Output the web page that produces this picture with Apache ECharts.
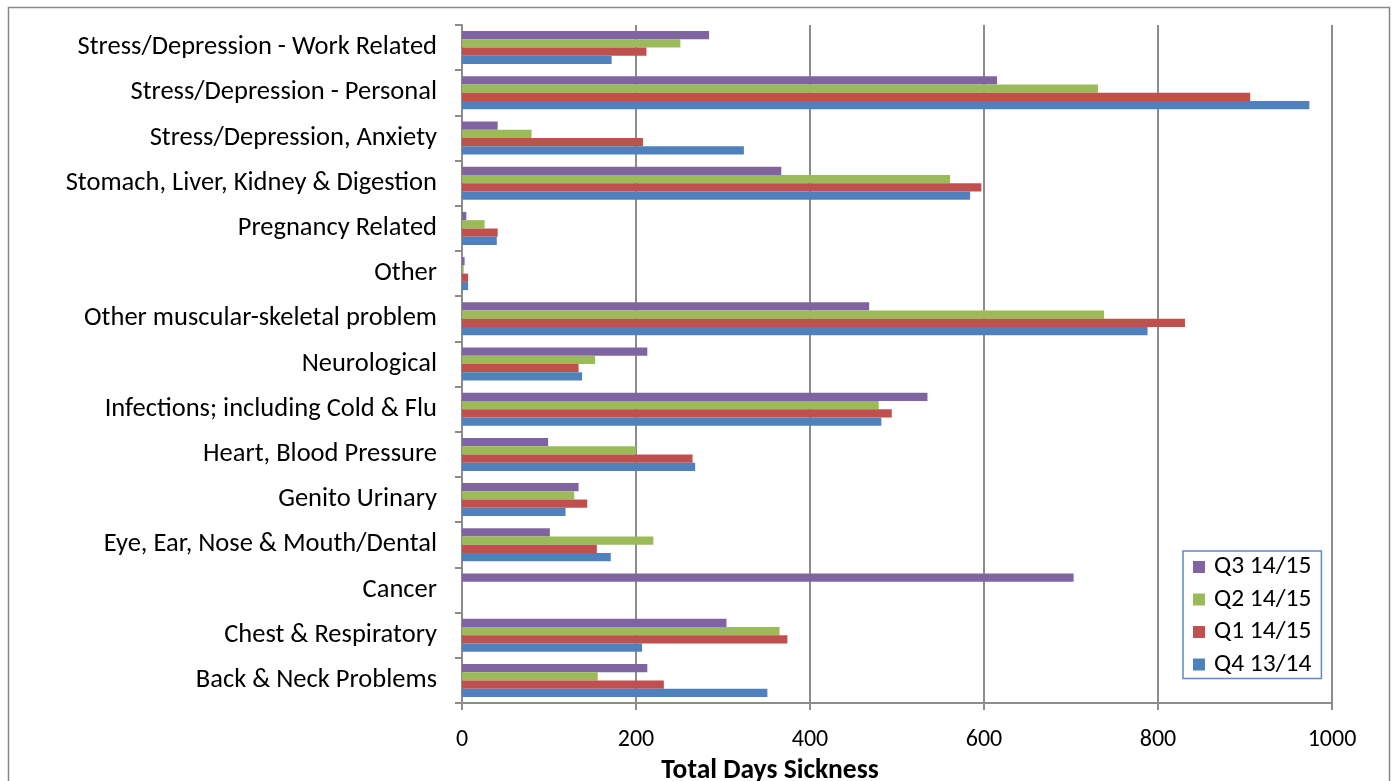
<!DOCTYPE html>
<html>
<head>
<meta charset="utf-8">
<script src="https://cdn.jsdelivr.net/npm/echarts@6/dist/echarts.min.js"></script>
<style>
  html, body { margin: 0; padding: 0; background: #fff; }
  #chart { width: 1395px; height: 781px; }
</style>
</head>
<body>
<div id="chart"></div>
<script>
// Sickness absence reasons, listed bottom to top on the category axis
const categories = [
  'Back & Neck Problems',
  'Chest & Respiratory',
  'Cancer',
  'Eye, Ear, Nose & Mouth/Dental',
  'Genito Urinary',
  'Heart, Blood Pressure',
  'Infections; including Cold & Flu',
  'Neurological',
  'Other muscular-skeletal problem',
  'Other',
  'Pregnancy Related',
  'Stomach, Liver, Kidney & Digestion',
  'Stress/Depression, Anxiety',
  'Stress/Depression - Personal',
  'Stress/Depression - Work Related'
];

const q3_1415 = [213, 304, 703, 101, 134, 99, 535, 213, 468, 3, 5, 367, 41, 615, 284];
const q2_1415 = [156, 365, 0, 220, 129, 200, 479, 153, 738, 2, 26, 561, 80, 731, 251];
const q1_1415 = [232, 374, 0, 155, 144, 265, 494, 134, 831, 7, 41, 597, 208, 906, 212];
const q4_1314 = [351, 207, 0, 171, 119, 268, 482, 138, 788, 7, 40, 584, 324, 974, 172];

const xTicks = [0, 200, 400, 600, 800, 1000];

const seriesNames = ['Q3 14/15', 'Q2 14/15', 'Q1 14/15', 'Q4 13/14'];
const seriesColors = ['#8064A2', '#9BBB59', '#C0504D', '#4F81BD'];
const seriesData = [q3_1415, q2_1415, q1_1415, q4_1314];

const font = 'Carlito, Calibri, "Liberation Sans", Arial, sans-serif';

const chart = echarts.init(document.getElementById('chart'));
chart.setOption({
  animation: false,
  backgroundColor: '#fff',
  textStyle: { fontFamily: font },
  graphic: [{
    type: 'rect',
    shape: { x: 8.5, y: 7.5, width: 1381, height: 800 },
    style: { fill: 'none', stroke: '#888', lineWidth: 1.5 },
    silent: true
  }],
  grid: { left: 462, right: 63, top: 25, bottom: 78, containLabel: false, outerBoundsMode: 'none' },
  legend: {
    orient: 'vertical',
    left: 1183,
    top: 551,
    data: seriesNames,
    icon: 'rect',
    itemWidth: 12,
    itemHeight: 12,
    itemGap: 6.5,
    padding: [3, 10, 1, 10],
    borderColor: '#5f8ac6',
    borderWidth: 1.5,
    backgroundColor: '#fff',
    textStyle: { fontSize: 25.5, color: '#000', fontFamily: font, lineHeight: 24, padding: [0, 0, 0, 4] }
  },
  xAxis: {
    type: 'value',
    min: 0,
    max: 1000,
    interval: 200,
    name: 'Total Days Sickness',
    nameLocation: 'middle',
    nameGap: 49,
    nameTextStyle: { fontSize: 27.5, fontWeight: 'bold', color: '#000', fontFamily: font, padding: [0, 254, 0, 0] },
    axisLine: { show: true, lineStyle: { color: '#8c8c8c', width: 2 } },
    axisTick: { show: true, length: 7, lineStyle: { color: '#8c8c8c', width: 2 } },
    axisLabel: {
      margin: 25,
      fontSize: 24,
      color: '#000',
      fontFamily: font,
      formatter: v => (xTicks.indexOf(v) >= 0 ? String(v) : '')
    },
    splitLine: { show: true, lineStyle: { color: '#8c8c8c', width: 2 } }
  },
  yAxis: {
    type: 'category',
    data: categories,
    axisLine: { show: true, lineStyle: { color: '#8c8c8c', width: 2 } },
    axisTick: { show: true, length: 7, lineStyle: { color: '#8c8c8c', width: 2 } },
    axisLabel: { margin: 25, fontSize: 26.5, color: '#000', fontFamily: font }
  },
  series: seriesNames.map((name, i) => ({
    name,
    type: 'bar',
    data: seriesData[i],
    barGap: '0%',
    barCategoryGap: '27%',
    itemStyle: { color: seriesColors[i] }
  }))
});
</script>
</body>
</html>
